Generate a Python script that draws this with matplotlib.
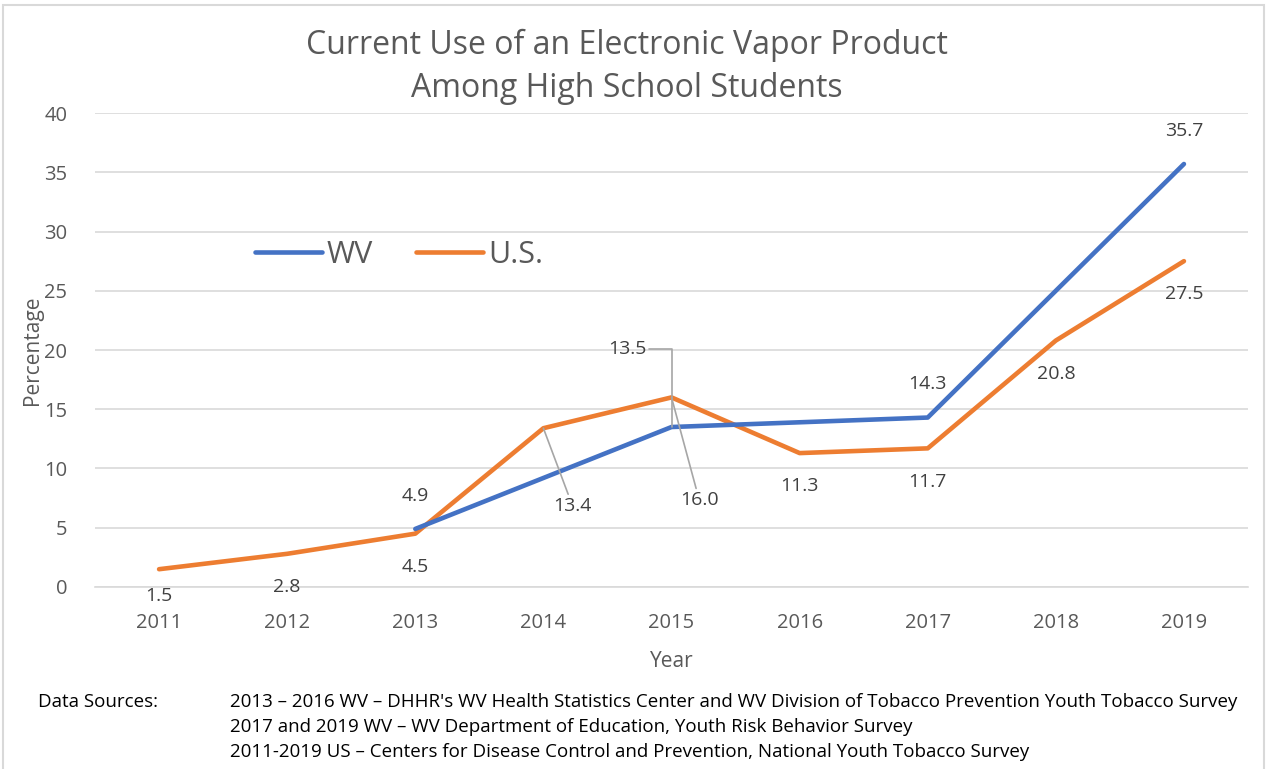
import matplotlib
matplotlib.use("Agg")
import matplotlib.pyplot as plt
from matplotlib.patches import Rectangle

years = [2011, 2012, 2013, 2014, 2015, 2016, 2017, 2018, 2019]
us_values = [1.5, 2.8, 4.5, 13.4, 16.0, 11.3, 11.7, 20.8, 27.5]
wv_years = [2013, 2015, 2017, 2019]
wv_values = [4.9, 13.5, 14.3, 35.7]
yticks = [0, 5, 10, 15, 20, 25, 30, 35, 40]

title = "Current Use of an Electronic Vapor Product\nAmong High School Students"
sources_head = "Data Sources:"
sources = [
    "2013 \u2013 2016 WV \u2013 DHHR's WV Health Statistics Center and WV Division of Tobacco Prevention Youth Tobacco Survey",
    "2017 and 2019 WV \u2013 WV Department of Education, Youth Risk Behavior Survey",
    "2011-2019 US \u2013 Centers for Disease Control and Prevention, National Youth Tobacco Survey",
]

BLUE = "#4472C4"
ORANGE = "#ED7D31"
TXT = "#595959"
LBL = "#404040"
FONT = ["Open Sans", "DejaVu Sans"]
plt.rcParams["font.family"] = FONT

fig = plt.figure(figsize=(12.67, 7.69), dpi=100)
fig.patches.append(Rectangle((0.002, -0.01), 0.996, 1.0035, transform=fig.transFigure,
                             fill=False, edgecolor="#d9d9d9", linewidth=1.5))
ax = fig.add_axes([0.075, 0.2367, 0.910, 0.6163])

xi = {y: i for i, y in enumerate(years)}
ax.plot([xi[y] for y in years], us_values, color=ORANGE, lw=3.3, solid_capstyle="round",
        solid_joinstyle="round", label="U.S.", zorder=3)
ax.plot([xi[y] for y in wv_years], wv_values, color=BLUE, lw=3.3, solid_capstyle="round",
        solid_joinstyle="round", label="WV", zorder=3)

ax.set_xlim(-0.5, len(years) - 0.5)
ax.set_ylim(0, 40)
ax.set_yticks(yticks)
ax.set_xticks(range(len(years)))
ax.set_xticklabels([str(y) for y in years])
ax.grid(axis="y", color="#d9d9d9", lw=1.2)
ax.set_axisbelow(True)
for s in ax.spines.values():
    s.set_visible(False)
ax.spines["bottom"].set_visible(True)
ax.spines["bottom"].set_color("#d9d9d9")
ax.spines["bottom"].set_linewidth(1.2)
ax.tick_params(axis="both", length=0, labelsize=14.5, labelcolor=TXT, pad=20)
ax.tick_params(axis="x", pad=19)
ax.set_xlabel("Year", fontsize=15, color=TXT, labelpad=13)
ax.set_ylabel("Percentage", fontsize=15, color=TXT)
ax.yaxis.set_label_coords(-0.045, 0.5)
fig.text(0.495, 1 - 67 / 769, title, fontsize=23, color=TXT, ha="center", va="center",
         linespacing=1.38)

def lab(x, y, dx, dy):
    ax.annotate(f"{y:.1f}", (x, y), xytext=(dx, dy), textcoords="offset points",
                ha="center", va="center", fontsize=14, color=LBL)

# US labels below
for y, v in zip(years, us_values):
    if y in (2014, 2015):
        continue
    dy = -19 if y == 2011 else -24
    lab(xi[y], v, 0, dy)
# WV labels above
for y, v in zip(wv_years, wv_values):
    if y == 2015:
        continue
    lab(xi[y], v, 0, 24)

# leader-line labels
lead = dict(arrowstyle="-", color="#a6a6a6", lw=1.2, shrinkA=0, shrinkB=0)
ax.annotate(f"{us_values[3]:.1f}", (xi[2014], us_values[3]), xytext=(21, -56),
            textcoords="offset points", ha="center", va="center", fontsize=14, color=LBL,
            arrowprops=dict(lead))
ax.annotate(f"{us_values[4]:.1f}", (xi[2015], us_values[4]), xytext=(20, -74),
            textcoords="offset points", ha="center", va="center", fontsize=14, color=LBL,
            arrowprops=dict(lead))
ax.annotate(f"{wv_values[1]:.1f}", (xi[2015], wv_values[1]), xytext=(-32, 56),
            textcoords="offset points", ha="center", va="center", fontsize=14, color=LBL,
            arrowprops=dict(lead, connectionstyle="angle,angleA=0,angleB=90,rad=0"))

handles, labels = ax.get_legend_handles_labels()
ax.legend(handles[::-1], labels[::-1], loc="upper left", bbox_to_anchor=(0.115, 0.79),
          ncol=2, frameon=False, fontsize=22, handlelength=2.2, handletextpad=0.15,
          columnspacing=1.4, labelcolor=TXT)

fig.text(38 / 1267, 1 - 702 / 769, sources_head, fontsize=13.5, color="black", va="center")
for i, s in enumerate(sources):
    fig.text(230 / 1267, 1 - (702 + 25 * i) / 769, s, fontsize=13.5, color="black",
             va="center")

fig.savefig("out.png", dpi=100)
